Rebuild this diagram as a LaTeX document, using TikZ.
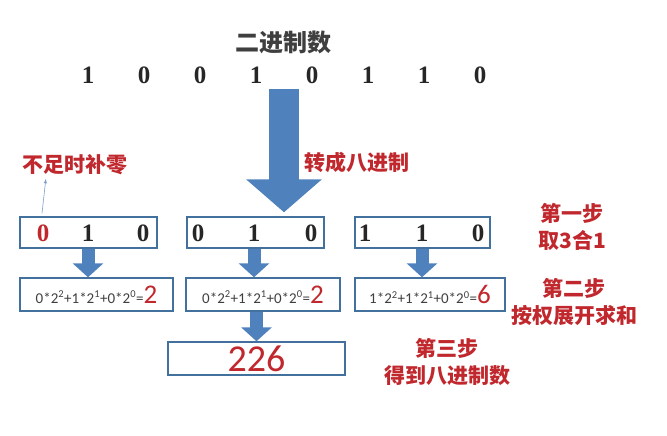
\documentclass[tikz,border=0pt]{standalone}
\usepackage{fontspec}
\setmainfont{Liberation Serif}
\newfontfamily\cjk{Noto Sans CJK SC}
\newfontfamily\calfont{Carlito}
\usetikzlibrary{arrows.meta,calc}
\definecolor{stepred}{HTML}{C0282D}
\definecolor{boxblue}{HTML}{41719C}
\definecolor{arrowblue}{HTML}{4F81BD}
\definecolor{titlegray}{HTML}{3F3F3F}

\begin{document}
\begin{tikzpicture}[x=1pt, y=-1pt, >=latex,
    bit/.style={font=\bfseries\fontsize{25}{25}\selectfont, text=black!85, inner sep=1pt},
    tag/.style={font=\cjk\bfseries\fontsize{21}{27}\selectfont, text=stepred, align=center},
    box/.style={draw=boxblue, line width=1.4pt, fill=white, inner sep=0pt},
    sum/.style={box, minimum height=33pt, font=\calfont\fontsize{15}{15}\selectfont, text=titlegray},
    fat/.style={arrowblue, line width=13pt, -{Triangle[width=30pt, length=14pt]}}]
  \useasboundingbox (0,0) rectangle (667,436);

  \node[font=\cjk\bfseries\fontsize{24}{24}\selectfont, text=titlegray] (title) at (283,42) {二进制数};
  \foreach \b [count=\i] in {1,0,0,1,0,1,1,0}
    \node[bit] (d\i) at (32+56*\i,75) {\b};

  % step 1: groups of three
  \node[box, minimum width=137pt, minimum height=31pt] (ga) at (88.5,232.5) {};
  \node[box, minimum width=137pt, minimum height=31pt] (gb) at (255.5,232.5) {};
  \node[box, minimum width=135pt, minimum height=31pt] (gc) at (422.5,232.5) {};
  \foreach \x/\b [count=\i] in {88/1,143/0,198/0,254/1,311/0,365/1,422/1,478/0}
    \node[bit] (g\i) at (\x,233) {\b};
  \node[bit, text=stepred] (pad) at (43,233) {0};

  % step 2: weighted sums
  \node[sum, minimum width=153pt] (sa) at (96.5,294.5)
    {0*2\textsuperscript{2}+1*2\textsuperscript{1}+0*2\textsuperscript{0}=\textcolor{stepred}{\fontsize{27}{27}\selectfont 2}};
  \node[sum, minimum width=154pt] (sb) at (263,294.5)
    {0*2\textsuperscript{2}+1*2\textsuperscript{1}+0*2\textsuperscript{0}=\textcolor{stepred}{\fontsize{27}{27}\selectfont 2}};
  \node[sum, minimum width=150pt] (sc) at (430,294.5)
    {1*2\textsuperscript{2}+1*2\textsuperscript{1}+0*2\textsuperscript{0}=\textcolor{stepred}{\fontsize{27}{27}\selectfont 6}};

  % step 3: result
  \node[box, minimum width=177pt, minimum height=33pt, font=\calfont\fontsize{38}{38}\selectfont, text=stepred] (res) at (256.5,358.5) {226};

  % arrows
  \coordinate (top) at ($(d4.south)!0.5!(d5.south)$);
  \draw[arrowblue, line width=30pt, -{Triangle[width=74pt, length=33pt]}] ($(top)+(0,4)$) -- ($(top |- gb.north)+(0,-4)$);
  \draw[fat] (ga.south -| g1) -- (sa.north -| g1);
  \draw[fat] (gb.south -| g4) -- (sb.north -| g4);
  \draw[fat] (gc.south -| g7) -- (sc.north -| g7);
  \draw[fat] (sb.south -| res.north) -- (res.north);

  % labels
  \node[tag] (conv) at (357,162) {转成八进制};
  \node[tag] (note) at (75,165) {不足时补零};
  \draw[->, color=arrowblue!75, line width=0.6pt] ($(ga.north -| pad)+(-1,-3)$) -- ($(note.south west)!0.24!(note.south east)$);
  \node[tag] (s1) at (572,227) {第一步\\取3合1};
  \node[tag] (s2) at (574,302) {第二步\\按权展开求和};
  \node[tag] (s3) at (447,362) {第三步\\得到八进制数};
\end{tikzpicture}
\end{document}
